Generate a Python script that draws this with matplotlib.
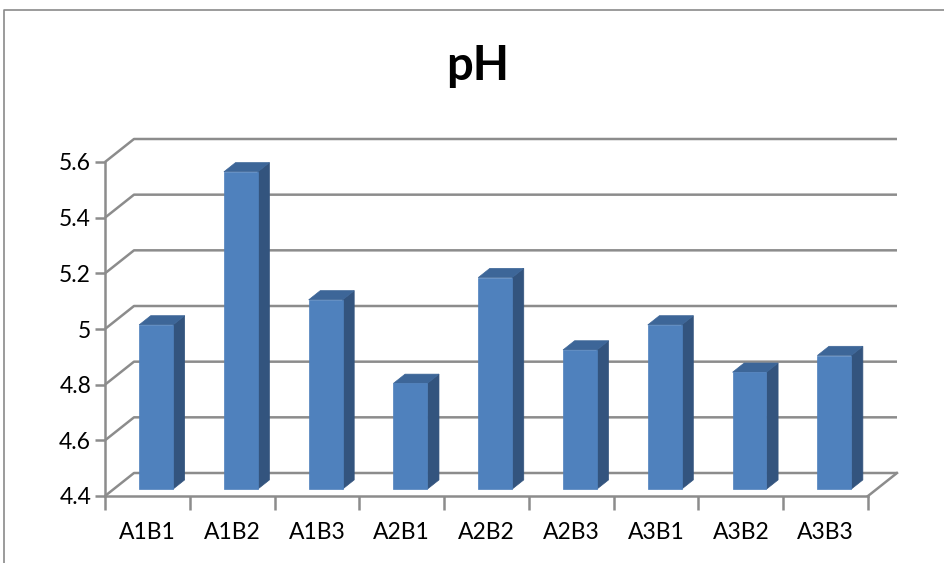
import matplotlib
matplotlib.use("Agg")
import matplotlib.pyplot as plt
from matplotlib.patches import Polygon
from matplotlib.lines import Line2D

# data
categories = ["A1B1", "A1B2", "A1B3", "A2B1", "A2B2", "A2B3", "A3B1", "A3B2", "A3B3"]
ph_values = [4.99, 5.54, 5.08, 4.78, 5.16, 4.90, 4.99, 4.82, 4.88]
y_ticks = [4.4, 4.6, 4.8, 5.0, 5.2, 5.4, 5.6]
y_labels = ["4.4", "4.6", "4.8", "5", "5.2", "5.4", "5.6"]

plt.rcParams["font.family"] = ["Lato", "DejaVu Sans"]

W, H = 945, 563
fig = plt.figure(figsize=(W / 100, H / 100), dpi=100)

# front plane of the pseudo-3D box, in pixels
left_px, right_px, bot_px, top_px = 105, 868, 496, 162
ax = fig.add_axes([left_px / W, 1 - bot_px / H,
                   (right_px - left_px) / W, (bot_px - top_px) / H])
n = len(categories)
ymin, ymax = y_ticks[0], y_ticks[-1]
ax.set_xlim(0, n)
ax.set_ylim(ymin, ymax)

# depth vector (pixels -> data units)
px_per_x = (right_px - left_px) / n
px_per_y = (bot_px - top_px) / (ymax - ymin)
dx = 29 / px_per_x
dy = 23 / px_per_y

grid_col = "#8c8c8c"
lw = 1.8

# back wall gridlines with left-wall diagonals
for t in y_ticks:
    ax.plot([0, dx, n + dx], [t, t + dy, t + dy], color=grid_col, lw=lw,
            clip_on=False, zorder=1, solid_capstyle="butt")
# floor right edge
ax.plot([n, n + dx], [ymin, ymin + dy], color=grid_col, lw=lw, clip_on=False, zorder=1)

# bars
front_c, side_c, top_c = "#4f81bd", "#33547e", "#3d6698"
f0, f1 = 0.3, 0.7
bw = 0.4
for i, v in enumerate(ph_values):
    x0 = i + (1 - bw) / 2
    x1 = x0 + bw
    front = [(x0 + f0 * dx, ymin + f0 * dy), (x1 + f0 * dx, ymin + f0 * dy),
             (x1 + f0 * dx, v + f0 * dy), (x0 + f0 * dx, v + f0 * dy)]
    side = [(x1 + f0 * dx, ymin + f0 * dy), (x1 + f1 * dx, ymin + f1 * dy),
            (x1 + f1 * dx, v + f1 * dy), (x1 + f0 * dx, v + f0 * dy)]
    top = [(x0 + f0 * dx, v + f0 * dy), (x1 + f0 * dx, v + f0 * dy),
           (x1 + f1 * dx, v + f1 * dy), (x0 + f1 * dx, v + f1 * dy)]
    for poly, c in ((side, side_c), (top, top_c), (front, front_c)):
        ax.add_patch(Polygon(poly, closed=True, facecolor=c, edgecolor=c,
                             lw=0.5, clip_on=False, zorder=3))

# axes styling
for s in ("top", "right"):
    ax.spines[s].set_visible(False)
for s in ("left", "bottom"):
    ax.spines[s].set_color(grid_col)
    ax.spines[s].set_linewidth(lw)
    ax.spines[s].set_zorder(4)
ax.set_facecolor("none")

ax.set_yticks(y_ticks)
ax.set_yticklabels(y_labels)
ax.tick_params(axis="y", length=7, width=lw, color=grid_col, labelsize=16.5, pad=3)

ax.set_xticks(range(n + 1))
ax.set_xticklabels([])
ax.tick_params(axis="x", which="major", length=10, width=lw, color=grid_col)
ax.set_xticks([i + 0.5 for i in range(n)], minor=True)
ax.set_xticklabels(categories, minor=True)
ax.tick_params(axis="x", which="minor", length=0, labelsize=16.5, pad=19)

# title and outer frame
fig.text(478 / W, 1 - 66 / H, "pH", ha="center", va="center",
         fontsize=34, fontweight="bold")
fig.add_artist(Line2D([4 / W, 4 / W, 1], [0, 1 - 10 / H, 1 - 10 / H],
                      color="#8a8a8a", lw=1.2, transform=fig.transFigure))

fig.savefig("out.png", dpi=100)
plt.close(fig)
